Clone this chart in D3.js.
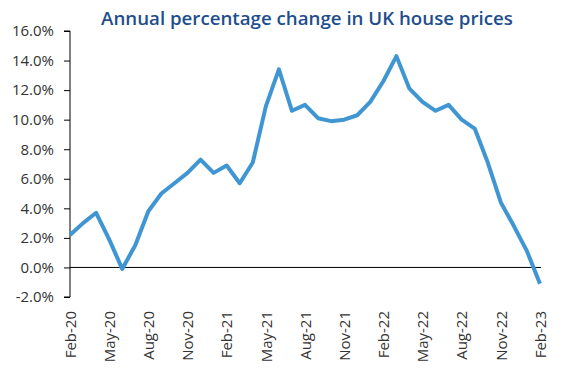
<!DOCTYPE html>
<html><head><meta charset="utf-8">
<script src="https://cdn.jsdelivr.net/npm/d3@7"></script>
<style>body{margin:0;background:#fff}svg{display:block}</style>
</head><body>
<svg id="c" width="567" height="385"></svg>
<script>
const title = "Annual percentage change in UK house prices";
const months = ["Feb-20","Mar-20","Apr-20","May-20","Jun-20","Jul-20","Aug-20","Sep-20","Oct-20","Nov-20","Dec-20","Jan-21",
"Feb-21","Mar-21","Apr-21","May-21","Jun-21","Jul-21","Aug-21","Sep-21","Oct-21","Nov-21","Dec-21","Jan-22",
"Feb-22","Mar-22","Apr-22","May-22","Jun-22","Jul-22","Aug-22","Sep-22","Oct-22","Nov-22","Dec-22","Jan-23","Feb-23"];
const values = [2.2,3.0,3.7,1.9,-0.1,1.5,3.8,5.0,5.7,6.4,7.3,6.4,
6.9,5.7,7.1,10.9,13.4,10.6,11.0,10.1,9.9,10.0,10.3,11.2,
12.6,14.3,12.1,11.2,10.6,11.0,10.0,9.4,7.1,4.4,2.8,1.1,-1.1];
const tickLabels = ["Feb-20","May-20","Aug-20","Nov-20","Feb-21","May-21","Aug-21","Nov-21","Feb-22","May-22","Aug-22","Nov-22","Feb-23"];
const yTicks = [-2,0,2,4,6,8,10,12,14,16];

const svg = d3.select("#c");
const x = d3.scalePoint().domain(months).range([70, 540]);
const y = d3.scaleLinear().domain([-2, 16]).range([297, 31]);
const font = "'Open Sans', sans-serif";

svg.append("text").attr("x", 307).attr("y", 25).attr("text-anchor", "middle")
  .attr("font-family", font).attr("font-size", 18.7).attr("font-weight", 600)
  .attr("fill", "#1f4e8c").text(title);

const ya = svg.append("g").attr("transform", "translate(70,0)")
  .call(d3.axisLeft(y).tickValues(yTicks).tickSize(6).tickPadding(10).tickFormat(d => d.toFixed(1) + "%"));
ya.select(".domain").attr("stroke", "#000").attr("d", `M-6,${y(16)}H0V${y(-2)}H-6`);
ya.selectAll(".tick line").attr("stroke", "#000");
ya.selectAll("text").attr("font-family", font).attr("font-size", 15).attr("fill", "#333");

svg.append("line").attr("x1", 70).attr("x2", 541).attr("y1", y(0)).attr("y2", y(0))
  .attr("stroke", "#000").attr("stroke-width", 1);

const xa = svg.append("g").attr("transform", `translate(0,${y(-2)})`)
  .call(d3.axisBottom(x).tickValues(tickLabels).tickSize(0));
xa.select(".domain").remove();
xa.selectAll("text").attr("font-family", font).attr("font-size", 15).attr("fill", "#333")
  .attr("text-anchor", "end").attr("dy", "0.35em")
  .attr("transform", "translate(0,14) rotate(-90)").attr("x", 0).attr("y", 0);

svg.append("path").datum(values)
  .attr("fill", "none").attr("stroke", "#4096d2").attr("stroke-width", 4).attr("stroke-linejoin", "round")
  .attr("d", d3.line().x((d, i) => x(months[i])).y(d => y(d)));
</script>
</body></html>
